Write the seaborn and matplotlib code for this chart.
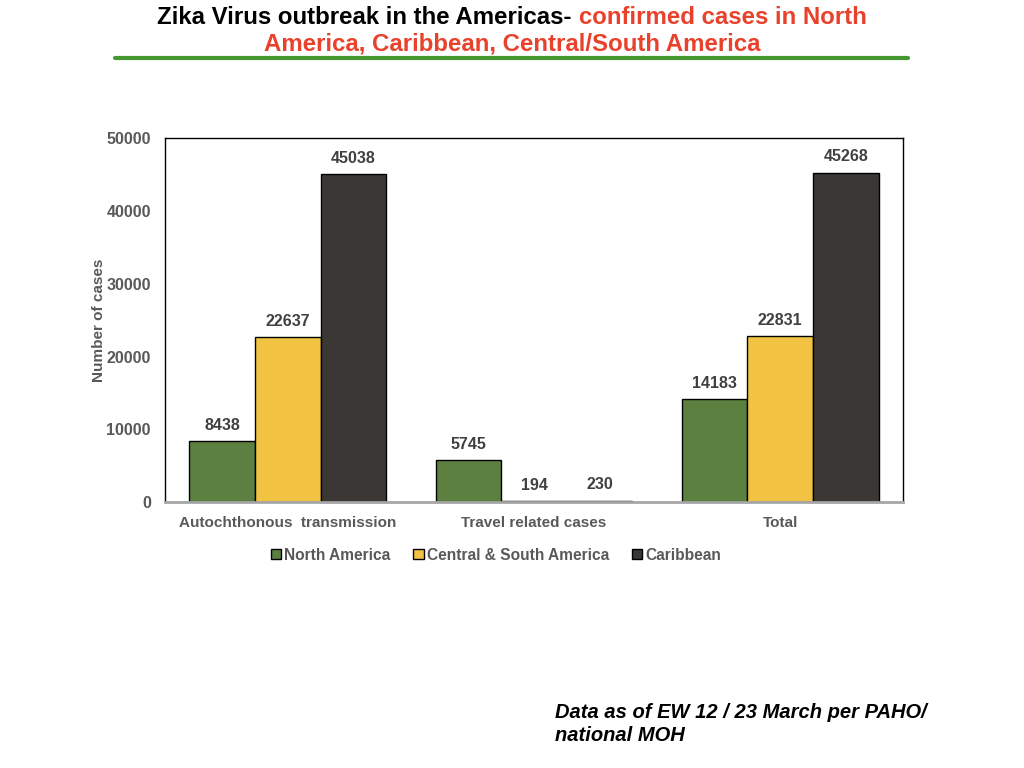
import pandas as pd
import numpy as np
import matplotlib.pyplot as plt
import seaborn as sns

categories = ["Autochthonous  transmission", "Travel related cases", "Total"]
regions = ["North America", "Central & South America", "Caribbean"]
north_america = [8438, 5745, 14183]
central_south = [22637, 194, 22831]
caribbean = [45038, 230, 45268]
colors = ["#5B8040", "#F2C343", "#3B3735"]

df = pd.DataFrame({
    "category": categories * 3,
    "region": [regions[0]] * 3 + [regions[1]] * 3 + [regions[2]] * 3,
    "cases": north_america + central_south + caribbean,
})

sns.set_style("white")
plt.rcParams['font.family'] = ['Liberation Sans', 'DejaVu Sans']
plt.rcParams['font.weight'] = 'bold'

fig = plt.figure(figsize=(10.24, 7.68), dpi=100)
ax = fig.add_axes([0.161, 0.346, 0.721, 0.474])

sns.barplot(data=df, x="category", y="cases", hue="region", palette=colors,
            edgecolor="black", linewidth=1, ax=ax, legend=True, saturation=1)

for cont in ax.containers:
    ax.bar_label(cont, fmt="%d", padding=6, fontsize=11.5, fontweight="bold", color="#404040")

ax.set_ylim(0, 50000)
ax.set_yticks(range(0, 50001, 10000))
ax.set_xlabel("")
ax.set_ylabel("Number of cases", fontsize=11, fontweight="bold", color="#595959", labelpad=0)
ax.tick_params(axis="both", length=0, labelcolor="#595959")
ax.tick_params(axis="x", pad=10, labelsize=11)
ax.tick_params(axis="y", pad=10, labelsize=11.5)
for lab in ax.get_xticklabels() + ax.get_yticklabels():
    lab.set_fontweight("bold")
for s in ["left", "top", "right"]:
    ax.spines[s].set_color("black")
    ax.spines[s].set_linewidth(1)
ax.spines["bottom"].set_color("#A6A6A6")
ax.spines["bottom"].set_linewidth(2)

handles, labels = ax.get_legend_handles_labels()
ax.get_legend().remove()
leg = fig.legend(handles, labels, loc="center", bbox_to_anchor=(496 / 1024, 1 - 555 / 768),
                 ncol=3, frameon=False, handlelength=0.65, handleheight=0.65,
                 handletextpad=0.2, columnspacing=1.5,
                 prop={"size": 11.2, "weight": "bold"})
for t in leg.get_texts():
    t.set_color("#595959")

# title in two colours
red = "#E8412C"
part1 = "Zika Virus outbreak in the Americas-"
part2 = "confirmed cases in North"
fs = 17.3
fig.canvas.draw()
r = fig.canvas.get_renderer()
t1 = fig.text(0, 0, part1, fontsize=fs, fontweight="bold", color="black", va="center")
t2 = fig.text(0, 0, part2, fontsize=fs, fontweight="bold", color=red, va="center")
gap = 8 / fig.bbox.width
w1 = t1.get_window_extent(r).width / fig.bbox.width
w2 = t2.get_window_extent(r).width / fig.bbox.width
x0 = 0.5 - (w1 + gap + w2) / 2
y1 = 1 - 17 / 768
t1.set_position((x0, y1))
t2.set_position((x0 + w1 + gap, y1))
fig.text(0.5, 1 - 44 / 768, "America, Caribbean, Central/South America", fontsize=fs,
         fontweight="bold", color=red, ha="center", va="center")
fig.add_artist(plt.Line2D([115 / 1024, 908 / 1024], [1 - 58 / 768] * 2,
                          color="#45982F", linewidth=3, transform=fig.transFigure))

fig.text(555 / 1024, 1 - 724 / 768, "Data as of EW 12 / 23 March per PAHO/\nnational MOH",
         fontsize=14.5, fontweight="bold", fontstyle="italic", color="black",
         ha="left", va="center", linespacing=1.3)

fig.savefig("out.png", dpi=100)
